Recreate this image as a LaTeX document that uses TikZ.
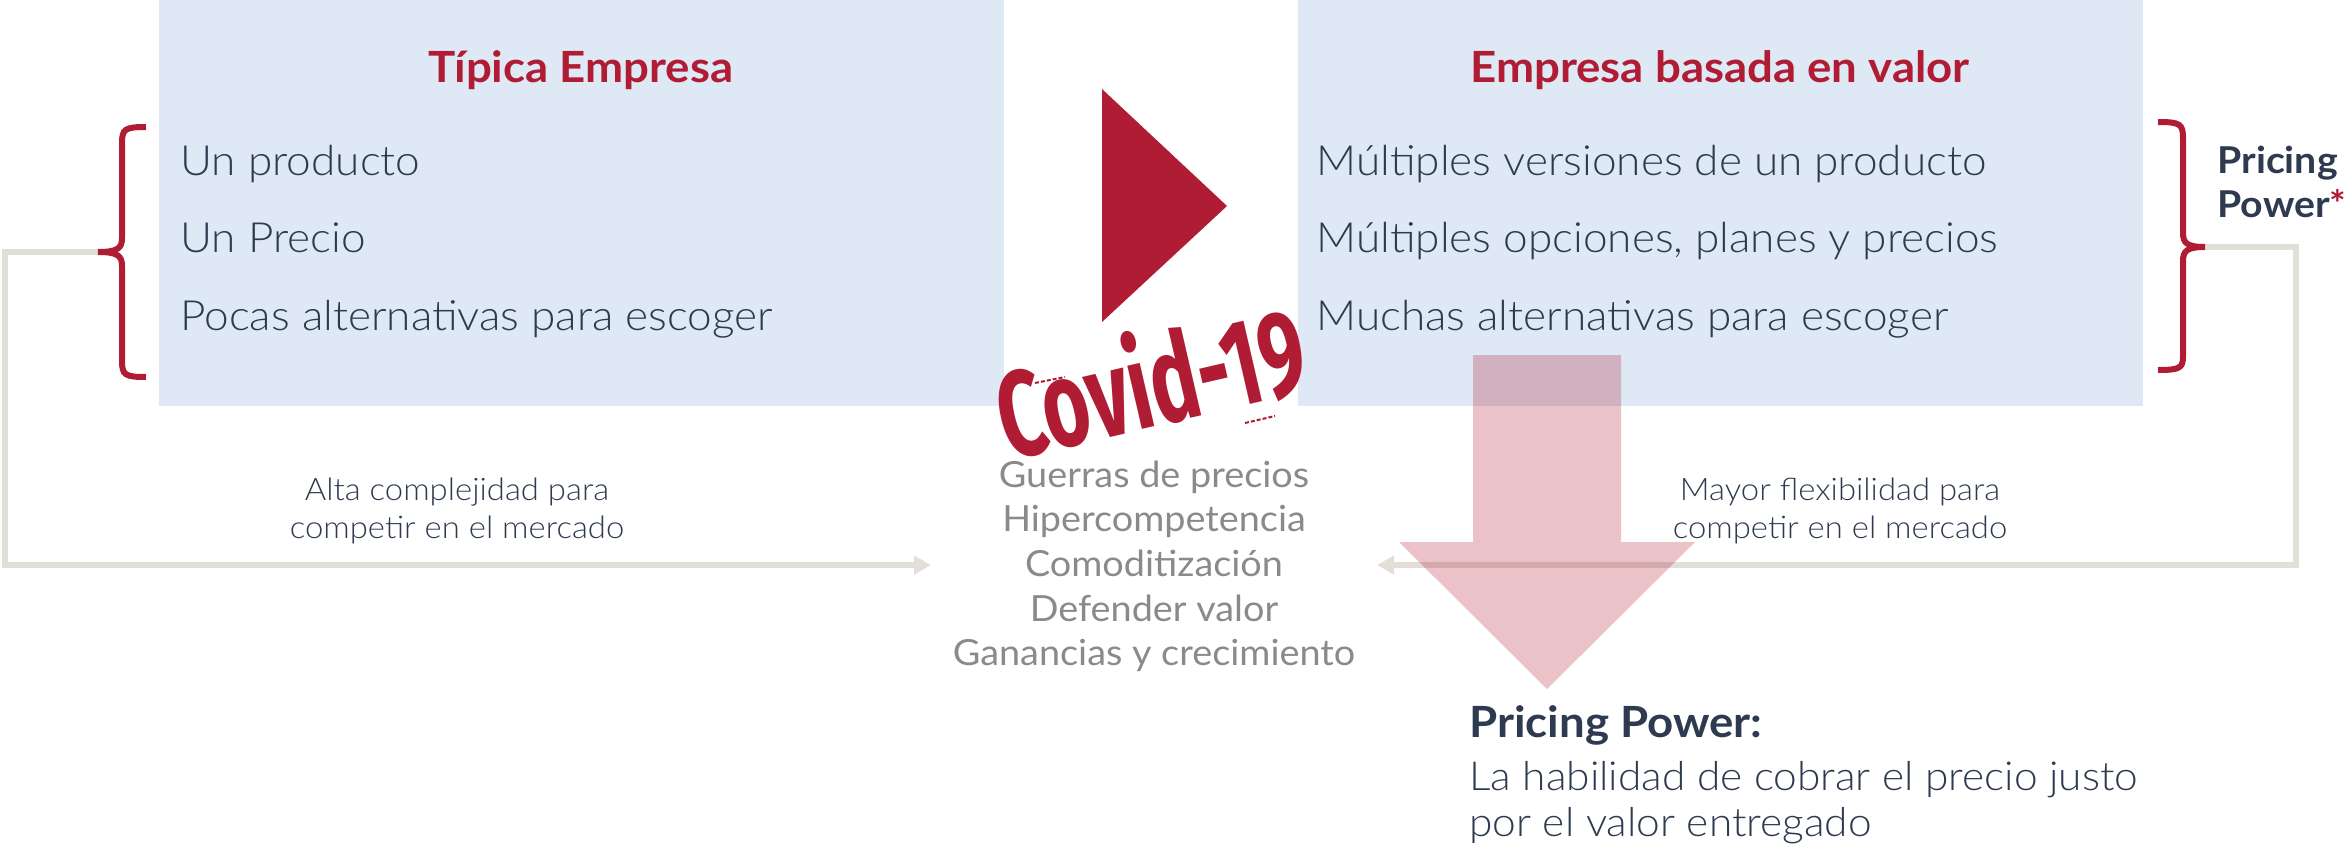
\documentclass[tikz,border=0pt]{standalone}
\usepackage{fontspec}
\setmainfont{Lato}[FakeStretch=1.06]
\newfontfamily\lightfont{Lato Light}[FakeStretch=1.06]
\newfontfamily\regfont{Lato}[FakeStretch=1.05]
\newfontfamily\stampfont{Fira Sans}[FakeStretch=0.66]
\usetikzlibrary{arrows.meta}
\definecolor{navy}{RGB}{46,58,79}
\definecolor{brandred}{RGB}{176,28,51}
\definecolor{boxblue}{RGB}{222,233,245}
\definecolor{txtgray}{RGB}{138,138,138}
\definecolor{linegray}{RGB}{226,222,216}
\begin{document}
\begin{tikzpicture}[x=0.5pt,y=-0.5pt,
  panel/.style={fill=boxblue, draw=none, anchor=north west, inner sep=0pt, minimum width=422.5pt, minimum height=203pt},
  item/.style={anchor=base west, inner sep=0pt, text=navy, font=\lightfont\fontsize{20.8}{24}\selectfont},
  ptitle/.style={anchor=base, inner sep=0pt, text=brandred, font=\bfseries\fontsize{21.5}{25}\selectfont},
  grayitem/.style={anchor=base, inner sep=0pt, text=txtgray, font=\regfont\fontsize{18}{22}\selectfont},
  sidelabel/.style={anchor=base, inner sep=0pt, text=navy, font=\lightfont\fontsize{15.5}{19}\selectfont},
  bracestyle/.style={draw=brandred, line width=3pt},
  conn/.style={draw=linegray, line width=2.8pt, -{Triangle[length=8.5pt,width=9pt]}},
  bigtext/.style={anchor=base west, inner sep=0pt, text=navy, font=\lightfont\fontsize{20}{24}\selectfont},
  boldnavy/.style={anchor=base west, inner sep=0pt, text=navy, font=\bfseries\fontsize{21.5}{25}\selectfont}
]
\useasboundingbox (0,0) rectangle (2346,851);

% panels
\node[panel] (left) at (159,0) {};
\node[panel] (right) at (1298,0) {};

% titles
\node[ptitle] (tl) at (581,83) {Típica Empresa};
\node[ptitle] (tr) at (1720,83) {Empresa basada en valor};

% items
\node[item] (l1) at (180,175) {Un producto};
\node[item] (l2) at (180,252) {Un Precio};
\node[item] (l3) at (180,330) {Pocas alternativas para escoger};
\node[item] (r1) at (1316,175) {Múltiples versiones de un producto};
\node[item] (r2) at (1316,252) {Múltiples opciones, planes y precios};
\node[item] (r3) at (1316,330) {Muchas alternativas para escoger};

% play triangle
\fill[brandred] (1102,89) -- (1227,206) -- (1102,322) -- cycle;

% connectors
\coordinate (lbt) at (98,252);
\coordinate (lcorner) at (5,565);
\coordinate (larr) at (931,565);
\coordinate (rbt) at (2205,247);
\coordinate (rcorner) at (2296,565);
\coordinate (rarr) at (1377,565);
\draw[conn] (lbt) -| (lcorner) -- (larr);
\draw[conn] (rbt) -| (rcorner) -- (rarr);

% braces
\draw[bracestyle] (146,127) .. controls (125,127) and (122,129) .. (122,143) -- (122,238) .. controls (122,248) and (118,252) .. (lbt) .. controls (118,252) and (122,256) .. (122,266) -- (122,361) .. controls (122,375) and (125,377) .. (146,377);
\draw[bracestyle] (2158,122) .. controls (2180,122) and (2183,124) .. (2183,138) -- (2183,233) .. controls (2183,243) and (2187,247) .. (rbt) .. controls (2187,247) and (2183,251) .. (2183,261) -- (2183,356) .. controls (2183,368) and (2180,370) .. (2158,370);

% side labels
\node[boldnavy, font=\bfseries\fontsize{18.5}{22}\selectfont] (pp1) at (2217,173) {Pricing};
\node[boldnavy, font=\bfseries\fontsize{18.5}{22}\selectfont] (pp2) at (2217,217) {Power\textcolor{brandred}{*}};

\node[sidelabel] (al1) at (457,500) {Alta complejidad para};
\node[sidelabel] (al2) at (457,538) {competir en el mercado};
\node[sidelabel] (ml1) at (1840,500) {Mayor flexibilidad para};
\node[sidelabel] (ml2) at (1840,538) {competir en el mercado};

% gray list
\node[grayitem] (g1) at (1154,487) {Guerras de precios};
\node[grayitem] (g2) at (1154,531) {Hipercompetencia};
\node[grayitem] (g3) at (1154,576) {Comoditización};
\node[grayitem] (g4) at (1154,621) {Defender valor};
\node[grayitem] (g5) at (1154,665) {Ganancias y crecimiento};

% covid stamp
\node[rotate=13, inner sep=0pt, text=brandred, font=\stampfont\bfseries\fontsize{61}{66}\selectfont] (covid) at (1150,379) {Covid-19};
\draw[brandred, line width=1pt, dash pattern=on 2pt off 1pt] (1035,383) -- (1065,377);
\draw[brandred, line width=1pt, dash pattern=on 2pt off 1pt] (1245,423) -- (1275,416);

% pink arrow
\fill[brandred, opacity=0.27] (1473,355) -- (1621,355) -- (1621,542) -- (1695,542) -- (1547,689) -- (1399,542) -- (1473,542) -- cycle;

% bottom definition
\node[boldnavy] (def1) at (1469,737) {Pricing Power:};
\node[bigtext] (def2) at (1469,790) {La habilidad de cobrar el precio justo};
\node[bigtext] (def3) at (1469,836) {por el valor entregado};
\end{tikzpicture}
\end{document}
